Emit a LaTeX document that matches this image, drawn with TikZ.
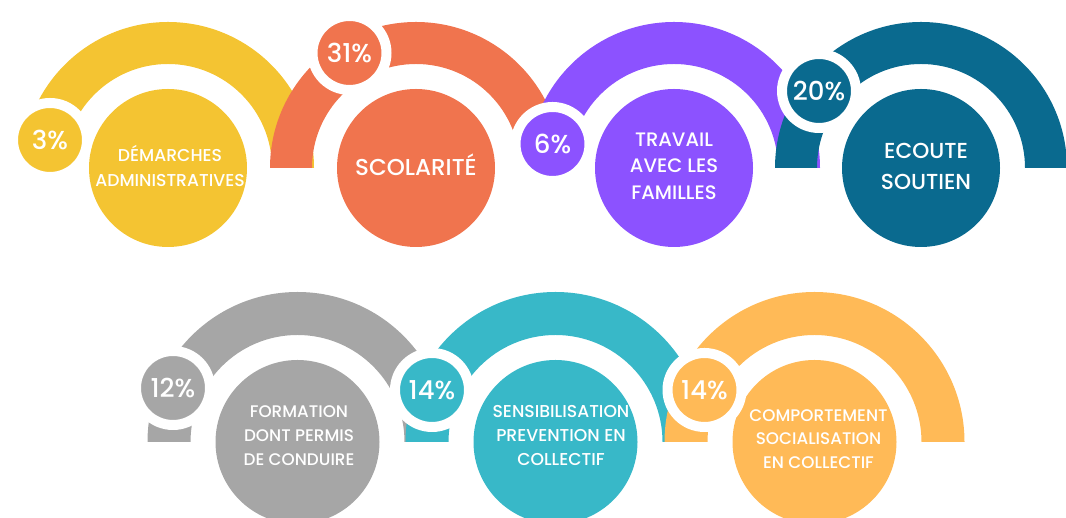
\documentclass[tikz,border=0pt]{standalone}
\usepackage{fontspec}
\setmainfont{Poppins}[UprightFont=* Medium]
\usepackage{tikz}
\definecolor{yelcol}{HTML}{F4C432}
\definecolor{orgcol}{HTML}{F0744E}
\definecolor{purcol}{HTML}{8C52FF}
\definecolor{blucol}{HTML}{0A6A8F}
\definecolor{grycol}{HTML}{A6A6A6}
\definecolor{turcol}{HTML}{38B8C8}
\definecolor{lorcol}{HTML}{FFBA57}

\begin{document}
\begin{tikzpicture}[x=1pt,y=1pt,
  disc/.style={circle,inner sep=0pt,minimum size=158pt},
  bigdisc/.style={circle,inner sep=0pt,minimum size=164pt},
  badge/.style={circle,inner sep=0pt,minimum size=74pt,draw=white,line width=10pt,
    text=white,font=\fontsize{26}{26}\selectfont},
  txt/.style={text=white,align=center}]
\useasboundingbox (0,0) rectangle (1066,518);
\clip (0,0) rectangle (1066,518);
% top row
\node (dem) at (168,350) [disc,fill=yelcol]{};
\fill[yelcol] ([xshift=-146pt]dem.center) arc[start angle=180,end angle=0,radius=146] -- ++(-42,0) arc[start angle=0,end angle=180,radius=104] -- cycle;
\node (demtxt) at ([xshift=2pt,yshift=2pt]dem.center) [txt,font=\fontsize{17.2}{25}\selectfont]{DÉMARCHES\\ADMINISTRATIVES};
\node (dempc) at (50,378) [badge,fill=yelcol]{3\%};

\node (sco) at (416,350) [disc,fill=orgcol]{};
\fill[orgcol] ([xshift=-146pt]sco.center) arc[start angle=180,end angle=0,radius=146] -- ++(-42,0) arc[start angle=0,end angle=180,radius=104] -- cycle;
\node (scotxt) at ([yshift=3pt]sco.center) [txt,font=\fontsize{23}{25}\selectfont]{SCOLARITÉ};
\node (scopc) at (349.5,465) [badge,fill=orgcol]{31\%};

\node (fam) at (674,350) [disc,fill=purcol]{};
\fill[purcol] ([xshift=-146pt]fam.center) arc[start angle=180,end angle=0,radius=146] -- ++(-42,0) arc[start angle=0,end angle=180,radius=104] -- cycle;
\node (famtxt) at ([yshift=2pt]fam.center) [txt,font=\fontsize{19.5}{26.5}\selectfont]{TRAVAIL\\AVEC LES\\FAMILLES};
\node (fampc) at (552.5,374) [badge,fill=purcol]{6\%};

\node (eco) at (921,350) [disc,fill=blucol]{};
\fill[blucol] ([xshift=-146pt]eco.center) arc[start angle=180,end angle=0,radius=146] -- ++(-42,0) arc[start angle=0,end angle=180,radius=104] -- cycle;
\node (ecotxt) at ([xshift=5pt,yshift=2pt]eco.center) [txt,font=\fontsize{21.7}{31}\selectfont]{ECOUTE\\SOUTIEN};
\node (ecopc) at (819,427) [badge,fill=blucol]{20\%};

% bottom row
\node (form) at (297.5,76) [bigdisc,fill=grycol]{};
\fill[grycol] ([xshift=-150pt]form.center) arc[start angle=180,end angle=0,radius=150] -- ++(-43,0) arc[start angle=0,end angle=180,radius=107] -- cycle;
\node (formtxt) at ([xshift=1.5pt,yshift=6pt]form.center) [txt,font=\fontsize{16.8}{24}\selectfont]{FORMATION\\DONT PERMIS\\DE CONDUIRE};
\node (formpc) at (173,130) [badge,fill=grycol]{12\%};

\node (sens) at (555.5,76) [bigdisc,fill=turcol]{};
\fill[turcol] ([xshift=-150pt]sens.center) arc[start angle=180,end angle=0,radius=150] -- ++(-43,0) arc[start angle=0,end angle=180,radius=107] -- cycle;
\node (senstxt) at ([xshift=5.5pt,yshift=6pt]sens.center) [txt,font=\fontsize{17.2}{24}\selectfont]{SENSIBILISATION\\PREVENTION EN\\COLLECTIF};
\node (senspc) at (432,128) [badge,fill=turcol]{14\%};

\node (comp) at (814.5,76) [bigdisc,fill=lorcol]{};
\fill[lorcol] ([xshift=-150pt]comp.center) arc[start angle=180,end angle=0,radius=150] -- ++(-43,0) arc[start angle=0,end angle=180,radius=107] -- cycle;
\node (comptxt) at ([xshift=4pt,yshift=3pt]comp.center) [txt,font=\fontsize{16.8}{23.5}\selectfont]{COMPORTEMENT\\SOCIALISATION\\EN COLLECTIF};
\node (comppc) at (704.5,128) [badge,fill=lorcol]{14\%};
\end{tikzpicture}
\end{document}
